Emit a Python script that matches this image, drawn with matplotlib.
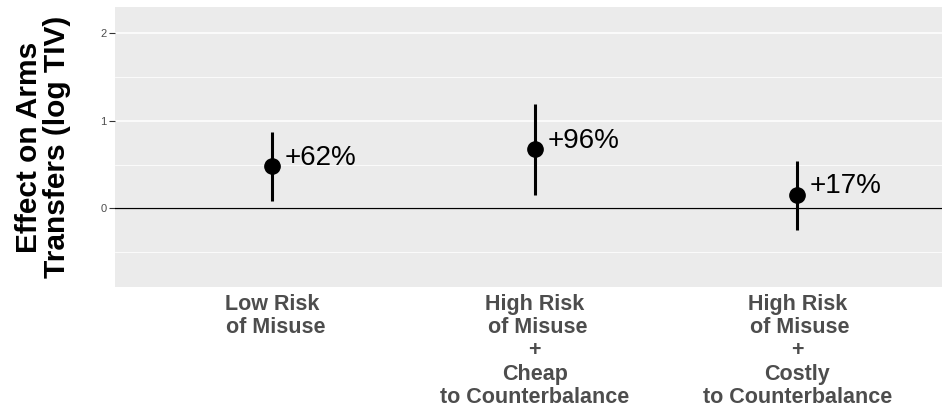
import numpy as np
import matplotlib.pyplot as plt
from matplotlib.ticker import MultipleLocator

plt.rcParams['font.family'] = ['Liberation Sans', 'DejaVu Sans']

# treatment groups and estimated effects (percent change in arms transfers)
groups = ["Low Risk\n of Misuse",
          "High Risk\n of Misuse\n+\nCheap\nto Counterbalance",
          "High Risk\n of Misuse\n+\nCostly\nto Counterbalance"]
pct_change = [62, 96, 17]
ci_low = [0.08, 0.15, -0.25]
ci_high = [0.87, 1.19, 0.54]

est = np.log(1 + np.array(pct_change) / 100)
x = np.arange(1, len(groups) + 1)

fig = plt.figure(figsize=(9.42, 4.09), dpi=100)
ax = fig.add_axes([115 / 942, 1 - 287 / 409, 1 - 115 / 942, (287 - 7.3) / 409])

ax.set_facecolor('#EBEBEB')
for s in ax.spines.values():
    s.set_visible(False)

ax.set_xlim(0.4, 3.552)
ax.set_ylim(-0.9, 2.297)
ax.yaxis.set_major_locator(MultipleLocator(1))
ax.yaxis.set_minor_locator(MultipleLocator(0.5))
ax.grid(which='major', axis='y', color='white', lw=1.1)
ax.grid(which='minor', axis='y', color='white', lw=0.55)
ax.set_axisbelow(True)

ax.axhline(0, color='black', lw=0.9, zorder=2)

ax.vlines(x, ci_low, ci_high, color='black', lw=2.2, zorder=3)
ax.plot(x, est, 'o', color='black', ms=11, zorder=4)

for xi, yi, p in zip(x, est, pct_change):
    ax.annotate(f"+{p}%", (xi, yi), xytext=(9, 6), textcoords='offset points',
                ha='left', va='center', fontsize=20, color='black')

ax.set_xticks(x)
ax.set_xticklabels(groups, fontsize=15.5, fontweight='bold', color='#4D4D4D',
                   linespacing=1.14)
ax.tick_params(axis='x', length=0, pad=5)
ax.tick_params(axis='y', which='major', length=4, width=0.8, color='#333333',
               labelsize=8, labelcolor='#4D4D4D', pad=2)
ax.tick_params(axis='y', which='minor', length=0)

ax.set_ylabel("Effect on Arms\nTransfers (log TIV)", fontsize=21.5,
              fontweight='bold', linespacing=1.02, labelpad=21)

fig.savefig('out.png', dpi=100)
